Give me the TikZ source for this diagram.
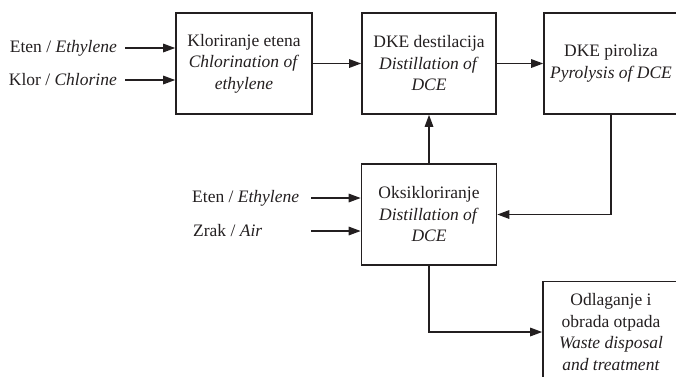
\documentclass[tikz,border=0pt]{standalone}
\usepackage{fontspec}
\setmainfont{Liberation Serif}
\usetikzlibrary{arrows.meta}
\definecolor{ink}{RGB}{35,31,32}
\tikzset{
  unit/.style={draw=ink, line width=1.6pt, minimum width=136pt, minimum height=101pt, align=center, inner sep=0pt},
  flow/.style={draw=ink, line width=1.4pt, -{Triangle[length=12pt,width=8.5pt]}},
  feed/.style={text=ink, inner sep=0pt}
}

\begin{document}
\begin{tikzpicture}[x=1pt, y=-1pt, font=\fontsize{17.5}{21.5}\selectfont, text=ink]
            \useasboundingbox (0,0) rectangle (676,376);
            \clip (0,0) rectangle (676,376);

            % Units
            \node[unit] (chlor) at (244,63.5) {Kloriranje etena\\\textit{Chlorination of}\\\textit{ethylene}};
            \node[unit, minimum width=134pt] (dist) at (429,63.5) {DKE destilacija\\\textit{Distillation of}\\\textit{DCE}};
            \node[unit, minimum width=134pt] (pyro) at (611,63.5) {DKE piroliza\\\textit{Pyrolysis of DCE}};
            \node[unit, minimum width=135pt] (oxy) at (429,214.5) {Oksikloriranje\\\textit{Distillation of}\\\textit{DCE}};
            \node[unit] (waste) at (611,332) {Odlaganje i\\obrada otpada\\\textit{Waste disposal}\\\textit{and treatment}};

            % Feeds
            \node[feed, anchor=east] (eten1) at (117,48) {Eten / \textit{Ethylene}};
            \node[feed, anchor=east] (klor) at (117,80) {Klor / \textit{Chlorine}};
            \node[feed, anchor=west] (eten2) at (192,198) {Eten / \textit{Ethylene}};
            \node[feed, anchor=west] (zrak) at (193,231) {Zrak / \textit{Air}};
            \coordinate (eten2in) at (311,198);
            \coordinate (zrakin) at (311,231);

            % Edges
            \draw[flow] (eten1.east) ++(8,0) -- (eten1.east -| chlor.west);
            \draw[flow] (klor.east) ++(8,0) -- (klor.east -| chlor.west);
            \draw[flow] (eten2in) -- (eten2in -| oxy.west);
            \draw[flow] (zrakin) -- (zrakin -| oxy.west);
            \draw[flow] (chlor) -- (dist);
            \draw[flow] (dist) -- (pyro);
            \draw[flow] (oxy.north) -- (oxy.north |- dist.south);
            \draw[flow] (pyro.south) |- (oxy.east);
            \draw[flow] (oxy.south) |- (waste.west);
        \end{tikzpicture}
\end{document}
